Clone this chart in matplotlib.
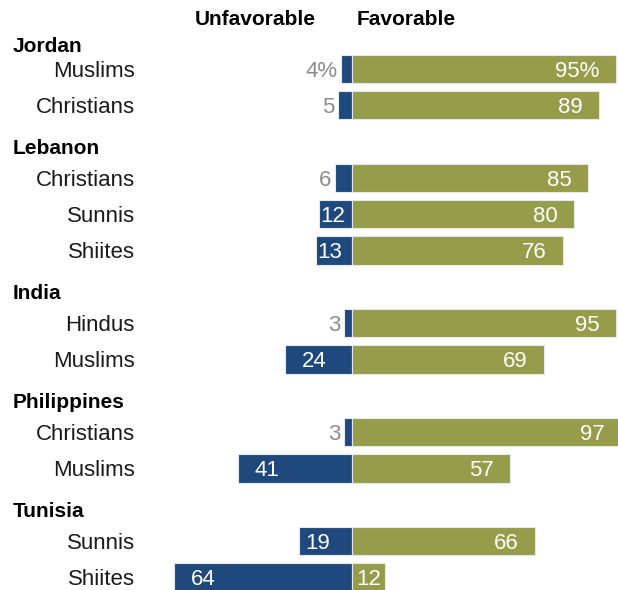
import matplotlib
matplotlib.use("Agg")
import matplotlib.pyplot as plt

# survey results: share with unfavorable / favorable views, by country and group
countries = ["Jordan", "Lebanon", "India", "Philippines", "Tunisia"]
groups = [
    ["Muslims", "Christians"],
    ["Christians", "Sunnis", "Shiites"],
    ["Hindus", "Muslims"],
    ["Christians", "Muslims"],
    ["Sunnis", "Shiites"],
]
unfavorable = [4, 5, 6, 12, 13, 3, 24, 3, 41, 19, 64]
favorable = [95, 89, 85, 80, 76, 95, 69, 97, 57, 66, 12]

BLUE = "#1f497d"
GREEN = "#969c4a"
GREY = "#8c8c8c"

plt.rcParams["font.family"] = ["Liberation Sans", "DejaVu Sans"]

fig = plt.figure(figsize=(6.18, 5.90), dpi=100)
ax = fig.add_axes([0, 0, 1, 1])

# one slot per bar, plus an empty slot between countries
rows = []
header_rows = []
k = 0
for i, g in enumerate(groups):
    header_rows.append(k - (0.62 if i == 0 else 0.82))
    for _ in g:
        rows.append(k)
        k += 1
    k += 1

labels = [name for g in groups for name in g]
bar_h = 0.78
dy = 0.06  # nudge text down onto the bar's middle

ax.barh(rows, [-u for u in unfavorable], height=bar_h, color=BLUE,
        edgecolor="#e4e9ee", linewidth=0.8)
ax.barh(rows, favorable, height=bar_h, color=GREEN,
        edgecolor="#e4e9ee", linewidth=0.8)

fs = 16
for i, (y, u, f, name) in enumerate(zip(rows, unfavorable, favorable, labels)):
    pct = "%" if i == 0 else ""
    ty = y + dy
    # unfavorable values
    if u <= 6:
        ax.text(-u - 1.3, ty, f"{u}{pct}", ha="right", va="center",
                color=GREY, fontsize=fs)
    else:
        if u >= 20:
            pad = 6
        elif u < 15:
            pad = 0.6
        else:
            pad = 2
        ax.text(-u + pad, ty, f"{u}{pct}", ha="left", va="center",
                color="white", fontsize=fs)
    # favorable values
    if f >= 20:
        ax.text(f - 6, ty, f"{f}{pct}", ha="right", va="center",
                color="white", fontsize=fs)
    else:
        ax.text(1.5, ty, f"{f}{pct}", ha="left", va="center",
                color="white", fontsize=fs)
    ax.text(-78.1, ty, name, ha="right", va="center", color="#1a1a1a",
            fontsize=fs)

for y, c in zip(header_rows, countries):
    ax.text(-122.0, y, c, ha="left", va="center", color="black",
            fontsize=15, fontweight="bold")

ax.text(-13.0, -1.37, "Unfavorable", ha="right", va="center",
        fontsize=15, fontweight="bold")
ax.text(1.8, -1.37, "Favorable", ha="left", va="center",
        fontsize=15, fontweight="bold")

ax.set_xlim(-126.67, 95.72)
ax.set_ylim(14.35, -1.90)
ax.axis("off")

fig.savefig("out.png", dpi=100)
